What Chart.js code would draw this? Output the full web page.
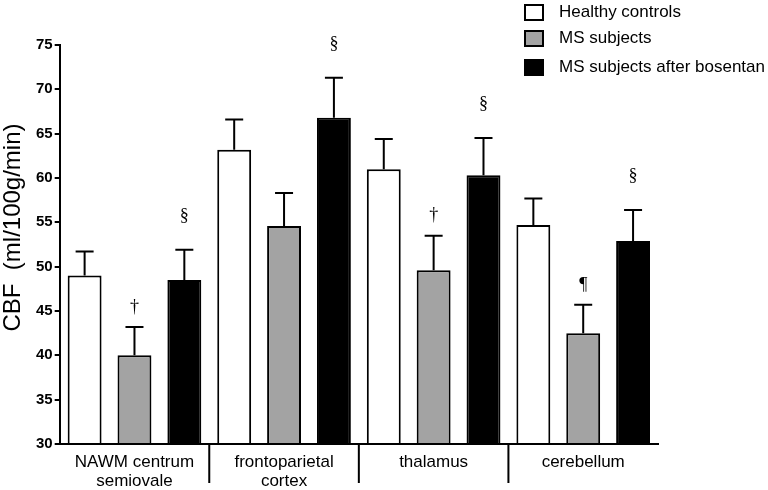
<!DOCTYPE html>
<html>
<head>
<meta charset="utf-8">
<script src="https://cdn.jsdelivr.net/npm/chart.js@4.4.1/dist/chart.umd.min.js"></script>
<style>
  html, body { margin: 0; padding: 0; background: #fff; }
  #wrap { width: 768px; height: 490px; }
</style>
</head>
<body>
<div id="wrap"><canvas id="cbfChart"></canvas></div>
<script>
// Regions on the x axis
const regions = [["NAWM centrum", "semiovale"], ["frontoparietal", "cortex"], "thalamus", "cerebellum"];

// Mean CBF (ml/100g/min) for each group
const healthyMeans = [49.0, 63.2, 61.0, 54.7];
const msMeans = [40.0, 54.6, 49.6, 42.5];
const bosentanMeans = [48.5, 66.8, 60.3, 52.9];

// Top of the error bar (mean + SD)
const healthyErr = [51.7, 66.6, 64.4, 57.7];
const msErr = [43.2, 58.3, 53.5, 45.7];
const bosentanErr = [51.9, 71.3, 64.5, 56.4];

// Significance marks ("" = none)
const healthyMarks = ["", "", "", ""];
const msMarks = ["†", "", "†", "¶"];
const bosentanMarks = ["§", "§", "§", "§"];

const yTicks = [30, 35, 40, 45, 50, 55, 60, 65, 70, 75];
const yTitle = "CBF  (ml/100g/min)";

const FONT = "'Liberation Sans', Arial, Helvetica, sans-serif";

// Draws error bars, significance marks, category separators, y title and the legend
const extrasPlugin = {
  id: "extras",
  afterDatasetsDraw(chart) {
    const ctx = chart.ctx;
    const yScale = chart.scales.y;
    const xScale = chart.scales.x;

    chart.data.datasets.forEach((ds, di) => {
      const meta = chart.getDatasetMeta(di);
      meta.data.forEach((bar, i) => {
        const topY = yScale.getPixelForValue(ds.errTop[i]);
        ctx.save();
        ctx.strokeStyle = "#000";
        ctx.lineWidth = 2;
        ctx.beginPath();
        ctx.moveTo(bar.x, bar.y);
        ctx.lineTo(bar.x, topY);
        ctx.moveTo(bar.x - 9, topY);
        ctx.lineTo(bar.x + 9, topY);
        ctx.stroke();

        const mark = ds.marks[i];
        if (mark) {
          ctx.fillStyle = "#000";
          ctx.textAlign = "center";
          ctx.textBaseline = "middle";
          ctx.font = "18px 'Liberation Serif', 'Times New Roman', serif";
          const gap = mark === "§" ? 34 : 20;
          ctx.fillText(mark, bar.x, topY - gap);
        }
        ctx.restore();
      });
    });

    // separators between regions, below the x axis
    ctx.save();
    ctx.strokeStyle = "#000";
    ctx.lineWidth = 2;
    ctx.beginPath();
    for (let i = 1; i < regions.length; i++) {
      const sx = (xScale.getPixelForValue(i - 1) + xScale.getPixelForValue(i)) / 2;
      ctx.moveTo(sx, xScale.top);
      ctx.lineTo(sx, xScale.top + 39);
    }
    ctx.stroke();
    ctx.restore();
  },
  afterDraw(chart) {
    const ctx = chart.ctx;
    const area = chart.chartArea;

    // y axis title, rotated
    ctx.save();
    ctx.translate(20, (area.top + area.bottom) / 2 - 17);
    ctx.rotate(-Math.PI / 2);
    ctx.fillStyle = "#000";
    ctx.font = "24px " + FONT;
    ctx.textAlign = "center";
    ctx.textBaseline = "alphabetic";
    ctx.fillText(yTitle, 0, 0);
    ctx.restore();

    // legend
    const rows = [12, 38, 67];
    ctx.save();
    chart.data.datasets.forEach((ds, i) => {
      const y = rows[i];
      ctx.fillStyle = ds.backgroundColor;
      ctx.fillRect(525, y - 7, 18, 15);
      ctx.strokeStyle = "#000";
      ctx.lineWidth = 2;
      ctx.strokeRect(525, y - 7, 18, 15);
      ctx.fillStyle = "#000";
      ctx.font = "17px " + FONT;
      ctx.textAlign = "left";
      ctx.textBaseline = "middle";
      ctx.fillText(ds.label, 559, y);
    });
    ctx.restore();
  }
};

const ctx = document.getElementById("cbfChart").getContext("2d");

new Chart(ctx, {
  type: "bar",
  data: {
    labels: regions,
    datasets: [
      {
        label: "Healthy controls",
        data: healthyMeans,
        errTop: healthyErr,
        marks: healthyMarks,
        backgroundColor: "#ffffff",
      },
      {
        label: "MS subjects",
        data: msMeans,
        errTop: msErr,
        marks: msMarks,
        backgroundColor: "#a3a3a3",
      },
      {
        label: "MS subjects after bosentan",
        data: bosentanMeans,
        errTop: bosentanErr,
        marks: bosentanMarks,
        backgroundColor: "#000000",
      },
    ],
  },
  options: {
    responsive: true,
    maintainAspectRatio: false,
    animation: false,
    datasets: {
      bar: {
        borderColor: "#000",
        borderWidth: 2,
        categoryPercentage: 1.0,
        barPercentage: 0.68,
        base: 30,
      },
    },
    layout: {
      padding: { top: 45, right: 110, bottom: 0, left: 34 },
    },
    plugins: {
      legend: { display: false },
      tooltip: { enabled: false },
    },
    scales: {
      x: {
        afterFit: (axis) => {
          axis.height = 46;
        },
        grid: { display: false, drawTicks: false },
        border: { display: true, color: "#000", width: 2 },
        ticks: {
          color: "#000",
          font: { family: FONT, size: 17, lineHeight: 1.1 },
          padding: 9,
          maxRotation: 0,
          autoSkip: false,
        },
      },
      y: {
        min: 30,
        max: 75,
        afterBuildTicks: (axis) => {
          axis.ticks = yTicks.map((v) => ({ value: v }));
        },
        grid: {
          drawOnChartArea: false,
          drawTicks: true,
          tickLength: 5,
          color: "#000",
          lineWidth: 2,
        },
        border: { display: true, color: "#000", width: 2 },
        ticks: {
          color: "#000",
          font: { family: FONT, size: 15, weight: "bold" },
          padding: 2,
        },
      },
    },
  },
  plugins: [extrasPlugin],
});
</script>
</body>
</html>
